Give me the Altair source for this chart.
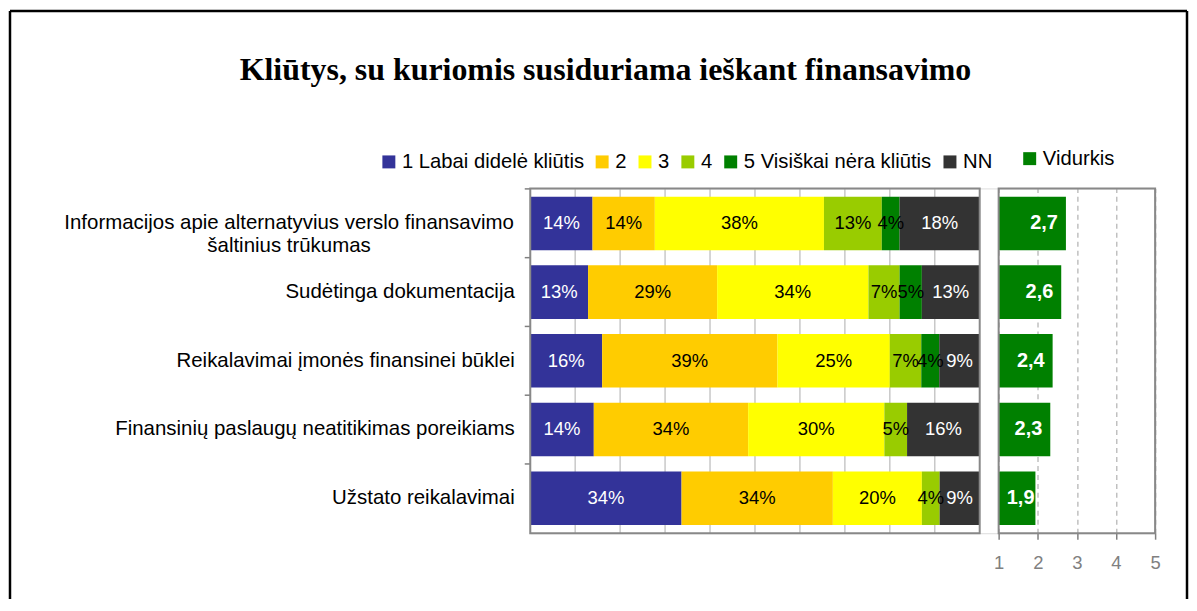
import altair as alt
import pandas as pd

# ---------------- data ----------------
cat_lines = [
    ["Informacijos apie alternatyvius verslo finansavimo", "šaltinius trūkumas"],
    ["Sudėtinga dokumentacija"],
    ["Reikalavimai įmonės finansinei būklei"],
    ["Finansinių paslaugų neatitikimas poreikiams"],
    ["Užstato reikalavimai"],
]
categories = [" ".join(l) for l in cat_lines]

levels = ["1 Labai didelė kliūtis", "2", "3", "4", "5 Visiškai nėra kliūtis", "NN"]
level_colors = ["#333399", "#FFCC00", "#FFFF00", "#99CC00", "#008000", "#333333"]

s1 = [14, 13, 16, 14, 34]
s2 = [14, 29, 39, 34, 34]
s3 = [38, 34, 25, 30, 20]
s4 = [13, 7, 7, 5, 4]
s5 = [4, 5, 4, 0, 0]
snn = [18, 13, 9, 16, 9]
series = [s1, s2, s3, s4, s5, snn]

averages = [2.72, 2.6, 2.38, 2.32, 1.94]
avg_label = "Vidurkis"
avg_color = "#008000"

share_grid = [0.1, 0.2, 0.3, 0.4, 0.5, 0.6, 0.7, 0.8, 0.9]
avg_ticks = [1, 2, 3, 4, 5]

title_text = "Kliūtys, su kuriomis susiduriama ieškant finansavimo"

# ---------------- tables ----------------
rows = []
for ci, cat in enumerate(categories):
    for li, (lvl, vals) in enumerate(zip(levels, series)):
        rows.append({"cat": cat, "level": lvl, "idx": li, "value": vals[ci]})
long_df = pd.DataFrame(rows)

avg_df = pd.DataFrame({"cat": categories, "avg": averages, "series": [avg_label] * len(categories)})
grid_df = pd.DataFrame({"g": share_grid})
left_frame_df = pd.DataFrame({"x0": [0], "x1": [1]})
right_frame_df = pd.DataFrame({"x0": [1], "x1": [5]})
one_df = pd.DataFrame({"k": [0]})

FONT = "Liberation Sans"
AXIS_GRAY = "#808080"
FRAME_GRAY = "#888888"

left_x = alt.Scale(domain=[0, 1], range=[0, 451])
right_x = alt.Scale(domain=[1, 5], range=[470, 627])

# multi-line label expression
expr = "datum.label"
multi_test = None
for lines, full in zip(cat_lines, categories):
    if len(lines) > 1:
        arr = "[" + ", ".join("'" + l + "'" for l in lines) + "]"
        expr = "datum.value == '" + full + "' ? " + arr + " : " + expr
        multi_test = "datum.value == '" + full + "'"

y_axis = alt.Axis(
    title=None,
    domain=False,
    ticks=True,
    tickColor=AXIS_GRAY,
    tickSize=6,
    tickWidth=1.5,
    bandPosition=-0.141,
    labelFont=FONT,
    labelFontSize=20.5,
    labelColor="black",
    labelLimit=700,
    labelLineHeight=23,
    labelExpr=expr,
    labelAlign={"condition": {"test": multi_test, "value": "center"}, "value": "right"},
    labelPadding={"condition": {"test": multi_test, "value": 236.5}, "value": 10},
)
y_enc = alt.Y("cat:N", sort=categories,
              scale=alt.Scale(paddingInner=0.22, paddingOuter=0.12),
              axis=y_axis)

right_axis = alt.Axis(values=avg_ticks, grid=True, gridDash=[5, 4], gridColor="#c0c0c0",
                      gridWidth=1.5, domain=False, ticks=True, tickSize=6, tickColor=AXIS_GRAY,
                      tickWidth=1.5, labelColor=AXIS_GRAY, labelFont=FONT, labelFontSize=18.5,
                      labelPadding=14, labelFlush=False, title=None, format="d", orient="bottom")

legend_common = dict(
    orient="none", direction="horizontal", title=None, symbolType="square",
    symbolSize=169, symbolStrokeWidth=0, labelFont=FONT, labelFontSize=20.3,
    labelColor="black", labelOffset=3, labelLimit=400, padding=0,
)

# ---------------- left panel ----------------
grid = alt.Chart(grid_df).mark_rule(color="#c8c8c8", strokeWidth=1.5).encode(
    x=alt.X("g:Q", scale=left_x, axis=None)
)

stacked = (
    alt.Chart(long_df)
    .transform_joinaggregate(total="sum(value)", groupby=["cat"])
    .transform_calculate(frac="datum.value / datum.total")
    .transform_window(cum="sum(frac)", groupby=["cat"], sort=[alt.SortField("idx")], frame=[None, 0])
    .transform_calculate(start="datum.cum - datum.frac", mid="datum.cum - datum.frac / 2",
                         lbl="format(datum.value, 'd') + '%'")
)

bars = stacked.mark_bar(strokeWidth=0).encode(
    x=alt.X("start:Q", scale=left_x, axis=None),
    x2="cum:Q",
    y=y_enc,
    color=alt.Color(
        "level:N",
        scale=alt.Scale(domain=levels, range=level_colors),
        legend=alt.Legend(legendX=-152, legendY=-37, columnPadding=8, **legend_common),
    ),
)

bar_text = stacked.transform_filter("datum.value > 0").mark_text(font=FONT, fontSize=18.5).encode(
    x=alt.X("mid:Q", scale=left_x, axis=None),
    y=y_enc,
    text="lbl:N",
    color=alt.condition("datum.idx == 0 || datum.idx == 5", alt.value("white"), alt.value("black")),
)

left_frame = alt.Chart(left_frame_df).mark_rect(filled=False, stroke=FRAME_GRAY, strokeWidth=2).encode(
    x=alt.X("x0:Q", scale=left_x, axis=None),
    x2="x1:Q",
    y=alt.value(0),
    y2=alt.value("height"),
)

left = alt.layer(grid, bars, bar_text, left_frame)

# ---------------- right panel ----------------
avg_base = alt.Chart(avg_df).transform_calculate(
    lo="1",
    tpos="max(datum.avg, 2.12)",
    lbl="replace(format(datum.avg, '.1f'), '.', ',')",
)

avg_bars = avg_base.mark_bar(strokeWidth=0).encode(
    x=alt.X("avg:Q", scale=right_x, axis=right_axis),
    x2="lo:Q",
    y=y_enc,
    color=alt.Color(
        "series:N",
        scale=alt.Scale(domain=[avg_label], range=[avg_color]),
        legend=alt.Legend(legendX=491, legendY=-40, **legend_common),
    ),
)

avg_text = avg_base.mark_text(align="right", dx=-8, font=FONT, fontSize=20, fontWeight="bold",
                              color="white").encode(
    x=alt.X("tpos:Q", scale=right_x, axis=right_axis),
    y=y_enc,
    text="lbl:N",
)

right_frame = alt.Chart(right_frame_df).mark_rect(filled=False, stroke=FRAME_GRAY, strokeWidth=2).encode(
    x=alt.X("x0:Q", scale=right_x, axis=right_axis),
    x2="x1:Q",
    y=alt.value(0),
    y2=alt.value("height"),
)

right = alt.layer(avg_bars, avg_text, right_frame)

# ---------------- outer black frame ----------------
outer_top = alt.Chart(one_df).mark_rule(color="black", strokeWidth=2.5).encode(
    x=alt.value(-522), x2=alt.value(659), y=alt.value(-178)
)
outer_left = alt.Chart(one_df).mark_rule(color="black", strokeWidth=2.5).encode(
    x=alt.value(-522), y=alt.value(-178), y2=alt.value(412)
)
outer_right = alt.Chart(one_df).mark_rule(color="black", strokeWidth=2.5).encode(
    x=alt.value(659), y=alt.value(-178), y2=alt.value(412)
)
outer = alt.layer(outer_top, outer_left, outer_right)

chart = (
    alt.layer(left, right, outer)
    .resolve_scale(x="independent", color="independent")
    .properties(
        width=627,
        height=346,
        padding=0,
        background="white",
        title=alt.Title(title_text, font="Liberation Serif", fontSize=32, fontWeight="bold",
                        anchor="middle", frame="group", dx=-238, offset=-77, color="black"),
    )
    .configure_view(stroke=None)
    .configure(font=FONT)
)

chart.save("out.html", embed_options={"renderer": "svg", "actions": False})
